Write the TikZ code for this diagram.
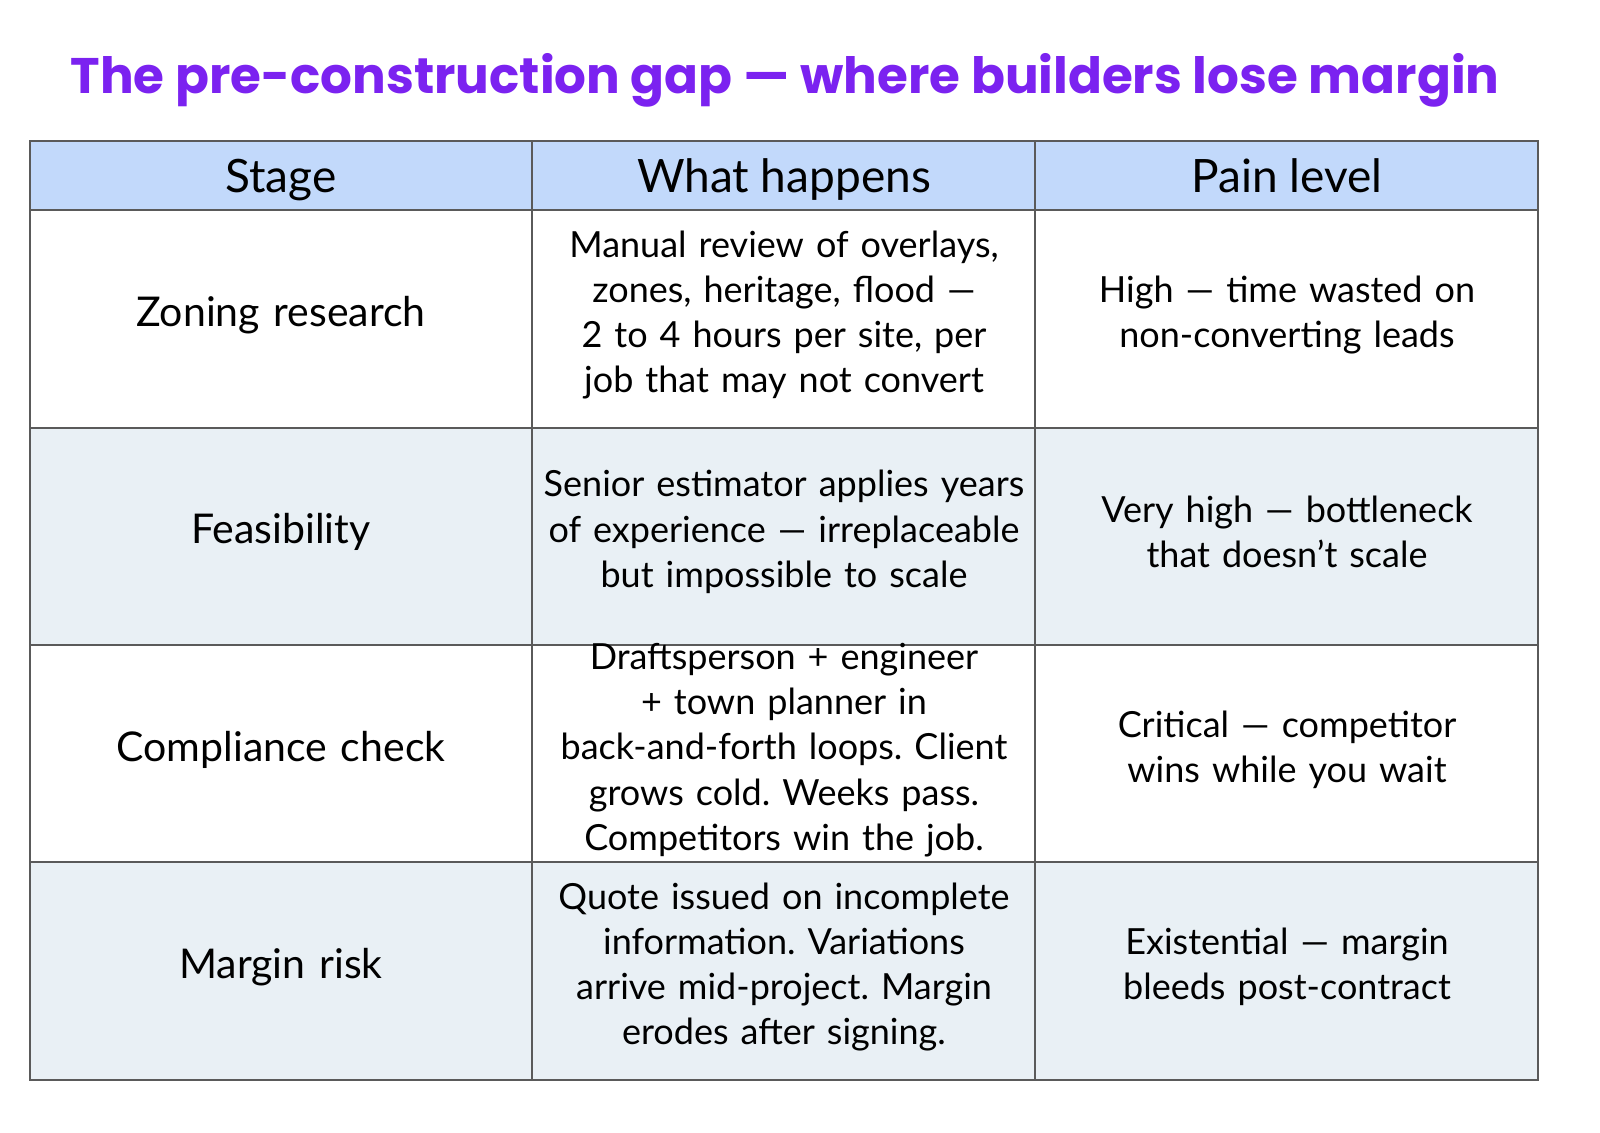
\documentclass[tikz,border=0pt]{standalone}
\usepackage{fontspec}
\setmainfont{Lato}
\newfontfamily\titlefont{Poppins}
\usetikzlibrary{positioning}
\definecolor{titlepurple}{HTML}{7B22F0}
\definecolor{headblue}{HTML}{C2D9FB}
\definecolor{rowgrey}{HTML}{E9F0F5}
\definecolor{gridgrey}{HTML}{5A5A5A}
\tikzset{
  cell/.style={align=center,text width=250pt,font=\fontsize{18}{22.6}\selectfont,inner sep=0pt,
    execute at begin node={\frenchspacing\hyphenpenalty=10000\exhyphenpenalty=10000}},
  stage/.style={cell,font=\fontsize{20.5}{24}\selectfont},
  head/.style={align=center,font=\fontsize{23}{26}\selectfont,inner sep=0pt,anchor=base},
}
\begin{document}
\begin{tikzpicture}[x=0.5pt,y=-0.5pt]
  \useasboundingbox (0,0) rectangle (1600,1133);
  \node[font=\titlefont\bfseries\fontsize{25}{30}\selectfont,text=titlepurple] (title) at (785,80) {The pre-construction gap — where builders lose margin};
  % backgrounds
  \fill[headblue] (30,141) rectangle (1538,210);
  \fill[rowgrey] (30,428) rectangle (1538,645);
  \fill[rowgrey] (30,862) rectangle (1538,1080);
  % grid
  \begin{scope}[draw=gridgrey,line width=0.7pt]
    \draw (30,141) rectangle (1538,1080);
    \foreach \y in {210,428,645,862} \draw (30,\y) -- (1538,\y);
    \foreach \x in {532,1035} \draw (\x,141) -- (\x,1080);
  \end{scope}
  % header
  \node[head] (h1) at (281,193) {Stage};
  \node[head] (h2) at (784,193) {What happens};
  \node[head] (h3) at (1287,193) {Pain level};
  % rows
  \node[stage] (s1) at (281,315) {Zoning research};
  \node[cell] (w1) at (784,315) {Manual review of overlays, zones, heritage, flood — 2 to 4 hours per site, per job that may not convert};
  \node[cell] (p1) at (1287,315) {High — time wasted on non-converting leads};
  \node[stage] (s2) at (281,532) {Feasibility};
  \node[cell] (w2) at (784,532) {Senior estimator applies years of experience — irreplaceable but impossible to scale};
  \node[cell] (p2) at (1287,532) {Very high — bottleneck that doesn't scale};
  \node[stage] (s3) at (281,750) {Compliance check};
  \node[cell] (w3) at (784,750) {Draftsperson + engineer + town planner in back-and-forth loops. Client grows cold. Weeks pass. Competitors win the job.};
  \node[cell] (p3) at (1287,750) {Critical — competitor wins while you wait};
  \node[stage] (s4) at (281,967) {Margin risk};
  \node[cell] (w4) at (784,967) {Quote issued on incomplete information. Variations arrive mid-project. Margin erodes after signing.};
  \node[cell] (p4) at (1287,967) {Existential — margin bleeds post-contract};
\end{tikzpicture}
\end{document}
